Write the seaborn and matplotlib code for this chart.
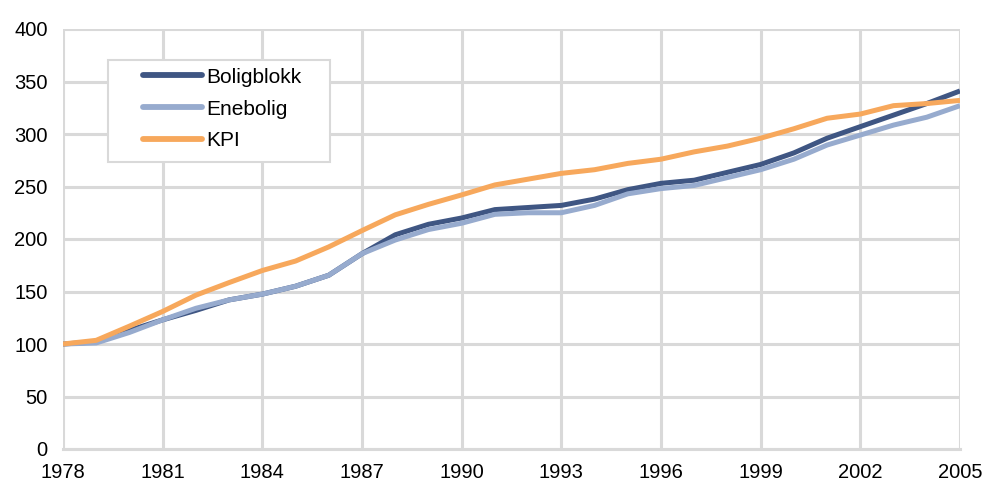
import matplotlib
matplotlib.use("Agg")
import matplotlib.pyplot as plt
from matplotlib.patches import Rectangle
import seaborn as sns
import pandas as pd

years = list(range(1978, 2006))
boligblokk = [100, 102, 113, 123, 132, 142, 147.5, 155, 165.5, 186, 204, 214, 220, 228, 230, 232,
              238, 247, 253, 256, 263.5, 271, 282, 296, 307, 318, 329, 341]
enebolig = [100, 101, 111, 123, 134, 142, 147.5, 155, 165.5, 186, 199, 209, 215, 223.5, 225, 225,
            232, 243, 248, 251, 258.5, 266, 276, 289.5, 299, 308.5, 316, 327]
kpi = [100, 103.5, 117, 131, 146.5, 158.5, 170, 179, 192.5, 208, 223, 233, 242, 251.5, 257, 262.5,
       266, 272, 276, 283, 288.5, 296, 305, 315, 319, 327, 329, 332]
series_names = ["Boligblokk", "Enebolig", "KPI"]
colors = ["#3F5683", "#97ABCE", "#F7A85C"]
x_ticks = list(range(1978, 2006, 3))
y_ticks = list(range(0, 401, 50))

df = pd.DataFrame({
    "År": years * 3,
    "Indeks": boligblokk + enebolig + kpi,
    "Serie": [series_names[0]] * len(years) + [series_names[1]] * len(years) + [series_names[2]] * len(years),
})

sns.set_theme(style="white")
plt.rcParams["font.family"] = ["Liberation Sans", "DejaVu Sans"]

fig = plt.figure(figsize=(9.83, 4.82), dpi=100)
ax = fig.add_axes([63 / 983, 1 - 449 / 482, 897 / 983, 420 / 482])

sns.lineplot(data=df, x="År", y="Indeks", hue="Serie", hue_order=series_names,
             palette=colors, linewidth=3.6, ax=ax, legend=True, zorder=3)
for line in ax.get_lines():
    line.set_solid_capstyle("butt")
    line.set_solid_joinstyle("round")

ax.set_xlim(1978, 2005)
ax.set_ylim(0, 400)
ax.set_xticks(x_ticks)
ax.set_yticks(y_ticks)
ax.set_xlabel("")
ax.set_ylabel("")
ax.grid(True, color="#D9D9D9", linewidth=2.2, zorder=0)
ax.set_axisbelow(True)
for side in ["top", "right", "left"]:
    ax.spines[side].set_visible(False)
ax.spines["bottom"].set_color("#D9D9D9")
ax.spines["bottom"].set_linewidth(2.2)
ax.tick_params(axis="both", length=0, labelsize=14.5, colors="black")
ax.tick_params(axis="x", pad=10)
ax.tick_params(axis="y", pad=11)

# legend box drawn as a plain white rectangle with a light grey border
ax.add_patch(Rectangle((0.0502, 0.683), 0.2475, 0.243, transform=ax.transAxes,
                       facecolor="white", edgecolor="#D9D9D9", linewidth=1.5, zorder=4))

leg = ax.legend(loc="upper left", bbox_to_anchor=(0.0892, 0.908), frameon=False,
                fontsize=15, handlelength=2.83, handletextpad=0.2, labelspacing=0.62,
                borderpad=0, borderaxespad=0)
leg.set_zorder(5)
for h in leg.get_lines():
    h.set_linewidth(4.2)
    h.set_solid_capstyle("round")
for t in leg.get_texts():
    t.set_color("black")

fig.savefig("out.png", dpi=100)
